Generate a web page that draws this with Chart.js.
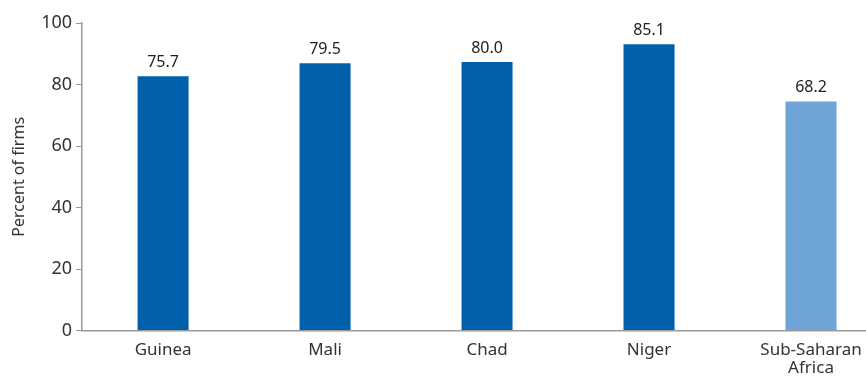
<!DOCTYPE html>
<html>
<head>
<meta charset="utf-8">
<script src="https://cdn.jsdelivr.net/npm/chart.js@4"></script>
<style>
  html, body { margin: 0; padding: 0; background: #fff; overflow: hidden; }
  #wrap { width: 892px; height: 380px; }
</style>
</head>
<body>
<div id="wrap"><canvas id="chart" width="892" height="380"></canvas></div>
<script>
const categories = ['Guinea', 'Mali', 'Chad', 'Niger', ['Sub-Saharan', 'Africa']];
// bar heights as drawn in the picture (they differ from the printed labels)
const barValues = [82.7, 86.9, 87.3, 93.1, 74.5];
const valueLabels = ['75.7', '79.5', '80.0', '85.1', '68.2'];
const yTicks = [0, 20, 40, 60, 80, 100];

const darkBlue = '#0060aa';
const lightBlue = '#6fa4d6';
const fontFamily = '"Noto Sans", "Open Sans", sans-serif';

const valueLabelPlugin = {
    id: 'valueLabels',
    afterDatasetsDraw(chart) {
        const ctx = chart.ctx;
        const meta = chart.getDatasetMeta(0);
        ctx.save();
        ctx.font = '16px ' + fontFamily;
        ctx.fillStyle = '#222';
        ctx.textAlign = 'center';
        ctx.textBaseline = 'bottom';
        meta.data.forEach((bar, i) => {
            ctx.fillText(valueLabels[i], bar.x, bar.y - 6);
        });
        ctx.restore();
    }
};

new Chart(document.getElementById('chart').getContext('2d'), {
    type: 'bar',
    data: {
        labels: categories,
        datasets: [{
            data: barValues,
            backgroundColor: [darkBlue, darkBlue, darkBlue, darkBlue, lightBlue],
            categoryPercentage: 1,
            barPercentage: 0.315
        }]
    },
    options: {
        responsive: false,
        animation: false,
        layout: { padding: { top: 23, right: 0, left: 10, bottom: 0 } },
        plugins: {
            legend: { display: false },
            tooltip: { enabled: false }
        },
        scales: {
            x: {
                grid: { display: false },
                border: { color: '#999', width: 1.5 },
                ticks: {
                    color: '#333',
                    font: { size: 17, family: fontFamily, lineHeight: 1.1 },
                    padding: 2,
                    maxRotation: 0
                }
            },
            y: {
                min: 0,
                max: 100,
                afterBuildTicks(axis) {
                    axis.ticks = yTicks.map(v => ({ value: v }));
                },
                grid: {
                    drawOnChartArea: false,
                    drawTicks: true,
                    tickLength: 6,
                    color: '#999'
                },
                border: { color: '#999', width: 1.5 },
                ticks: {
                    color: '#333',
                    font: { size: 18, family: fontFamily },
                    padding: 4
                },
                title: {
                    display: true,
                    text: 'Percent of firms',
                    color: '#333',
                    font: { size: 16, family: fontFamily },
                    padding: { top: 0, bottom: 8 }
                }
            }
        }
    },
    plugins: [valueLabelPlugin]
});
</script>
</body>
</html>
